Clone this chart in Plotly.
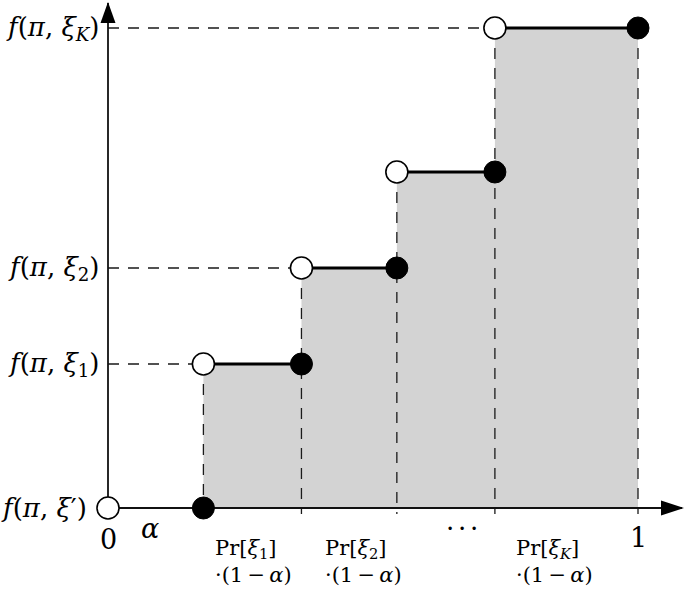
import plotly.graph_objects as go

# ---- data ----
alpha = 0.18
edges = [0.18, 0.365, 0.545, 0.73, 1.0]       # x positions of the jumps (alpha ... 1)
levels = [1.5, 2.5, 3.5, 5.0]                 # f(pi, xi_k) values
level_labels = [
    "<i>f</i>(<i>π</i>, <i>ξ</i><sub>1</sub>)",
    "<i>f</i>(<i>π</i>, <i>ξ</i><sub>2</sub>)",
    None,
    "<i>f</i>(<i>π</i>, <i>ξ</i><sub><i>K</i></sub>)",
]
base_label = "<i>f</i>(<i>π</i>, <i>ξ</i>′)"
prob_labels = [
    "Pr[<i>ξ</i><sub>1</sub>]<br>·(1\u2009−\u2009<i>α</i>)",
    "Pr[<i>ξ</i><sub>2</sub>]<br>·(1\u2009−\u2009<i>α</i>)",
    None,
    "Pr[<i>ξ</i><sub><i>K</i></sub>]<br>·(1\u2009−\u2009<i>α</i>)",
]

# ---- layout constants (pixel mapping) ----
W, H = 685, 589
X0PX, X1PX = 108, 638          # px of x=0 and x=1
Y0PX, YPU = 508, 96            # px of y=0, px per unit
xr = [-X0PX / (X1PX - X0PX), (W - X0PX) / (X1PX - X0PX)]
yr = [-(H - Y0PX) / YPU, Y0PX / YPU]
xpx = 1.0 / (X1PX - X0PX)      # one pixel in x data units
ypx = 1.0 / YPU

FONT = "DejaVu Serif"
black = "#000000"
gray = "#d3d3d3"
fig = go.Figure()

# gray area under the step function
fig.add_trace(go.Scatter(
    x=edges, y=levels + [levels[-1]], mode="lines", line=dict(width=0, shape="hv"),
    fill="tozeroy", fillcolor=gray, hoverinfo="skip", showlegend=False))

# dashed guide lines (horizontal only for labelled levels)
dx, dy = [], []
for xe, lv, lab in zip(edges[:-1], levels, level_labels):
    if lab:
        dx += [0, xe, None]
        dy += [lv, lv, None]
tops = levels + [levels[-1]]
for xe, lv in zip(edges, tops):
    dx += [xe, xe, None]
    dy += [lv, -6 * ypx, None]
fig.add_trace(go.Scatter(x=dx, y=dy, mode="lines",
                         line=dict(color="#1a1a1a", width=1.3, dash="11px,9px"),
                         hoverinfo="skip", showlegend=False))

# axes lines
xmax = xr[1] - 3 * xpx
ymax = yr[1] - 3 * ypx
fig.add_trace(go.Scatter(x=[0, xmax, None, 0, 0], y=[0, 0, None, 0, ymax], mode="lines",
                         line=dict(color="#111111", width=1.8),
                         hoverinfo="skip", showlegend=False))

# horizontal step segments
sx, sy = [], []
for i, lv in enumerate(levels):
    sx += [edges[i], edges[i + 1], None]
    sy += [lv, lv, None]
fig.add_trace(go.Scatter(x=sx, y=sy, mode="lines", line=dict(color=black, width=3.2),
                         hoverinfo="skip", showlegend=False))

# open circles (left ends) including origin
fig.add_trace(go.Scatter(x=[0] + edges[:-1], y=[0] + levels, mode="markers",
                         marker=dict(size=22, color="white", line=dict(color=black, width=1.6)),
                         hoverinfo="skip", showlegend=False))
# filled circles (right ends) including alpha on axis
fig.add_trace(go.Scatter(x=[alpha] + edges[1:], y=[0] + levels, mode="markers",
                         marker=dict(size=22, color=black, line=dict(color=black, width=1)),
                         hoverinfo="skip", showlegend=False))

# arrow heads
shapes = [
    dict(type="path", xref="x", yref="y", xsizemode="pixel", ysizemode="pixel",
         xanchor=0, yanchor=yr[1] - 2 * ypx,
         path="M 0 0 L -7.5 -21 L 7.5 -21 Z", fillcolor=black, line=dict(width=0)),
    dict(type="path", xref="x", yref="y", xsizemode="pixel", ysizemode="pixel",
         xanchor=xr[1] - 1 * xpx, yanchor=0,
         path="M 0 0 L -23 7.5 L -23 -7.5 Z", fillcolor=black, line=dict(width=0)),
]

ann = []
def text(x, y, s, size, xanchor="center", yanchor="middle", align="center"):
    ann.append(dict(x=x, y=y, xref="x", yref="y", text=s, showarrow=False,
                    font=dict(family=FONT, size=size, color=black),
                    xanchor=xanchor, yanchor=yanchor, align=align))

for lv, lab in zip(levels, level_labels):
    if lab:
        text(-7 * xpx, lv, lab, 26, xanchor="right")
text(-19 * xpx, 0, base_label, 26, xanchor="right")
text(0, -31 * ypx, "0", 27)
text(alpha / 2 - 6 * xpx, -20 * ypx, "<i>α</i>", 27)
text(1.0, -29 * ypx, "1", 27)

offs = [10, 22, 0, 19]
for i, lab in enumerate(prob_labels):
    if lab:
        text(edges[i] + offs[i] * xpx, -53 * ypx, lab, 21, xanchor="left", align="left")
mid = (edges[2] + edges[3]) / 2
text(mid + 16 * xpx, -20 * ypx, "<b>·</b> <b>·</b> <b>·</b>", 18)

fig.update_layout(
    width=W, height=H, margin=dict(l=0, r=0, t=0, b=0),
    paper_bgcolor="white", plot_bgcolor="white",
    xaxis=dict(range=xr, visible=False, fixedrange=True),
    yaxis=dict(range=yr, visible=False, fixedrange=True),
    shapes=shapes, annotations=ann, showlegend=False,
)
fig.write_html("out.html")
